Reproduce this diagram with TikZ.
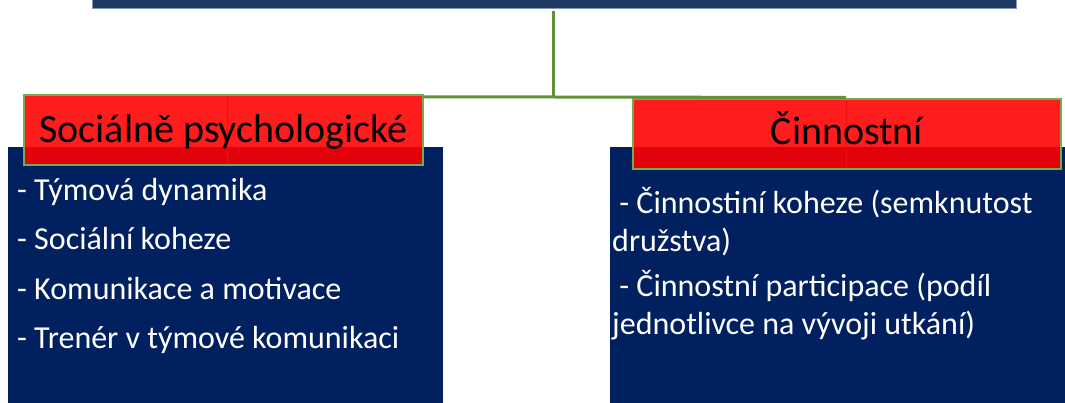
\documentclass[tikz,border=0pt]{standalone}
\usepackage{fontspec}
\setmainfont{Carlito}
\definecolor{navy}{RGB}{0,32,96}
\definecolor{barnavy}{RGB}{32,56,100}
\definecolor{baredge}{RGB}{130,150,185}
\definecolor{redtop}{RGB}{255,28,28}
\definecolor{reddark}{RGB}{226,2,10}
\definecolor{redseam}{RGB}{232,18,18}
\definecolor{boxgreen}{RGB}{118,172,78}
\definecolor{linegreen}{RGB}{98,145,56}
\tikzset{
  navybox/.style={fill=navy, draw=none},
  redbox/.style={fill=redtop, draw=none},
  redframe/.style={draw=boxgreen, line width=2pt},
  conn/.style={draw=linegreen, line width=3pt},
  title/.style={font=\fontsize{40}{45}\selectfont, text=black, inner sep=0pt, anchor=base},
  item/.style={font=\fontsize{32}{38}\selectfont, text=white, inner sep=0pt, anchor=base west, align=left},
}
\begin{document}
\begin{tikzpicture}[x=1pt,y=-1pt]
\useasboundingbox (0,0) rectangle (1065,403);
% top bar
\path[fill=barnavy, draw=baredge, line width=0.6pt] (92,-2) rectangle (1016,8.5);
\node[inner sep=0pt, minimum size=0pt] (top) at (553.5,8.5) {};
% navy boxes
\fill[navybox] (8,147) rectangle (443,405);
\fill[navybox] (610,147) rectangle (1067,405);
% red boxes
\fill[redbox] (24,95) rectangle (423,165);
\fill[reddark] (24,147) rectangle (423,165);
\draw[redseam, line width=0.8pt] (227,96) -- (227,164);
\fill[redbox] (633,99) rectangle (1061,169);
\fill[reddark] (633,147) rectangle (1061,169);
\draw[redseam, line width=0.8pt] (846,100) -- (846,168);
\draw[redframe] (24,95) rectangle (423,165);
\draw[redframe] (633,99) rectangle (1061,169);
% connectors
\coordinate (vtop) at (553.5,11);
\coordinate (junc) at (553.5,97);
\coordinate (lend) at (423,97);
\coordinate (rend) at (846,97.5);
\draw[conn] (vtop) -- (junc);
\draw[conn] (lend) -- (junc) -- (rend);
% titles
\node[title] (lt) at (223.5,143) {Sociálně psychologické};
\node[title] (rt) at (847,145) {Činnostní};
% left list
\node[item] (l1) at (17,201) {- Týmová dynamika};
\node[item] (l2) at (17,250) {- Sociální koheze};
\node[item] (l3) at (17,299) {- Komunikace a motivace};
\node[item] (l4) at (17,348) {- Trenér v týmové komunikaci};
% right list (base anchor = baseline of last line)
\node[item] (r1) at (612,252) {\ - Činnostiní koheze (semknutost\\družstva)};
\node[item] (r2) at (612,334) {\ - Činnostní participace (podíl\\jednotlivce na vývoji utkání)};
\end{tikzpicture}
\end{document}
